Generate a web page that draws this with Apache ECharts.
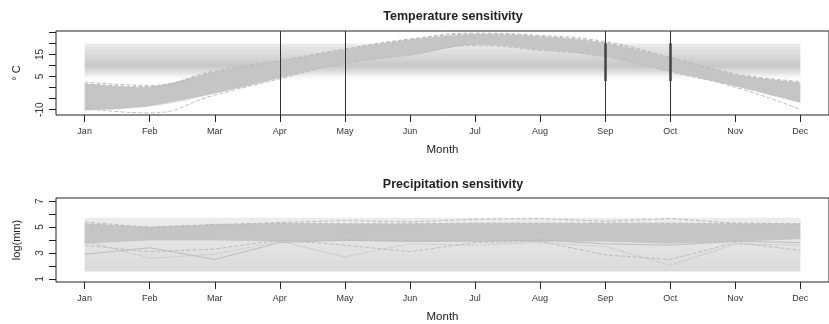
<!DOCTYPE html>
<html>
<head>
<meta charset="utf-8">
<script src="https://cdn.jsdelivr.net/npm/echarts@6/dist/echarts.min.js"></script>
<style>
  html, body { margin: 0; padding: 0; background: #fff; }
  #chart { width: 829px; height: 324px; }
</style>
</head>
<body>
<div id="chart"></div>
<script>
  // months on x (1..12)
  var months = ['Jan', 'Feb', 'Mar', 'Apr', 'May', 'Jun', 'Jul', 'Aug', 'Sep', 'Oct', 'Nov', 'Dec'];
  var monthPos = [1, 2, 3, 4, 5, 6, 7, 8, 9, 10, 11, 12];

  // temperature: dense envelope of the ensemble (deg C)
  var tempTop = [1.8, 0.4, 7.0, 11.9, 17.2, 21.7, 24.2, 23.2, 20.2, 13.4, 5.9, 2.2];
  var tempBot = [-10.2, -8.3, -2.6, 4.4, 11.2, 14.9, 19.4, 17.2, 14.2, 7.4, 0.7, -6.8];
  // a few outer members
  var tempOutHigh = [2.6, 1.0, 7.6, 12.3, 17.5, 22.0, 24.6, 23.6, 20.8, 13.8, 6.3, 2.8];
  var tempOutLow = [-9.2, -11.5, -3.4, 4.0, 10.9, 14.7, 19.0, 16.9, 13.9, 7.1, 0.2, -9.9];
  var tempTicks = [-10, -5, 0, 5, 10, 15, 20, 25];
  var tempLabels = [-10, 5, 15];
  var tempShade = [3, 20];       // shaded band (deg C)
  var tempFull = [4, 5, 9, 10];  // full height vertical lines (month)
  var tempThick = [9, 10];       // thick segment over the shaded band

  // precipitation: dense envelope (log mm)
  var precTop = [5.25, 5.0, 5.2, 5.3, 5.25, 5.25, 5.3, 5.3, 5.3, 5.3, 5.25, 5.25];
  var precBot = [3.75, 4.0, 4.0, 3.9, 3.95, 3.9, 3.95, 3.9, 3.9, 3.75, 3.9, 4.1];
  var precUp = [5.4, 4.95, 5.15, 5.35, 5.5, 5.4, 5.6, 5.65, 5.45, 5.65, 5.3, 5.25];
  var precLowA = [2.9, 3.4, 2.5, 3.8, 4.0, 3.9, 3.9, 4.0, 3.7, 3.6, 3.9, 3.8];
  var precLowB = [3.6, 3.1, 3.3, 4.0, 3.6, 3.1, 3.8, 3.9, 2.85, 2.5, 3.8, 3.2];
  var precLowC = [3.9, 2.6, 2.9, 3.9, 2.7, 3.7, 3.6, 3.8, 3.5, 2.05, 3.7, 3.6];
  var precTicks = [1, 2, 3, 4, 5, 6, 7];
  var precLabels = [1, 3, 5, 7];
  var precShade = [1.57, 5.72];

  function pairs(ys) {
    return monthPos.map(function (m, i) { return [m, ys[i]]; });
  }

  var font = 'Liberation Sans, Arial, Helvetica, sans-serif';
  var ink = '#222';
  var lineGrey = '#bdbdbd';
  var bandGrey = '#c5c5c5';

  function xAxisOf(idx) {
    return {
      gridIndex: idx,
      type: 'value',
      min: 0.56,
      max: 12.44,
      name: 'Month',
      nameLocation: 'middle',
      nameGap: 29,
      nameTextStyle: { color: ink, fontSize: 11.5, fontFamily: font },
      axisLine: { show: false, onZero: false },
      axisTick: { show: true, length: 7, lineStyle: { color: ink }, customValues: monthPos },
      axisLabel: {
        color: '#333', fontSize: 9, fontFamily: font, margin: 12,
        customValues: monthPos,
        formatter: function (v) { return months[Math.round(v) - 1]; }
      },
      splitLine: { show: false }
    };
  }
  function yAxisOf(idx, name, min, max, ticks, labels) {
    return {
      gridIndex: idx,
      type: 'value',
      min: min,
      max: max,
      name: name,
      nameLocation: 'middle',
      nameGap: 34,
      nameRotate: 90,
      nameTextStyle: { color: ink, fontSize: 11, fontFamily: font },
      axisLine: { show: false, onZero: false },
      axisTick: { show: true, length: 7, lineStyle: { color: ink }, customValues: ticks },
      axisLabel: {
        color: '#333', fontSize: 10, fontFamily: font, margin: 11, rotate: 90,
        customValues: labels
      },
      splitLine: { show: false }
    };
  }

  // cubic (catmull-rom style) path segments through screen points
  function curve(pts, smooth) {
    var d = '';
    for (var i = 0; i < pts.length - 1; i++) {
      var p0 = pts[Math.max(i - 1, 0)], p1 = pts[i], p2 = pts[i + 1], p3 = pts[Math.min(i + 2, pts.length - 1)];
      if (!smooth) { d += ' L' + p2[0] + ' ' + p2[1]; continue; }
      var c1x = p1[0] + (p2[0] - p0[0]) / 6, c1y = p1[1] + (p2[1] - p0[1]) / 6;
      var c2x = p2[0] - (p3[0] - p1[0]) / 6, c2y = p2[1] - (p3[1] - p1[1]) / 6;
      d += ' C' + c1x + ' ' + c1y + ' ' + c2x + ' ' + c2y + ' ' + p2[0] + ' ' + p2[1];
    }
    return d;
  }

  // filled envelope between two series, drawn through the axes
  function band(xi, top, bot, smooth) {
    return {
      type: 'custom', xAxisIndex: xi, yAxisIndex: xi, silent: true, z: 2,
      data: [[monthPos[0], top[0]]],
      renderItem: function (params, api) {
        var up = monthPos.map(function (m, i) { return api.coord([m, top[i]]); });
        var lo = monthPos.map(function (m, i) { return api.coord([m, bot[i]]); }).reverse();
        var d = 'M' + up[0][0] + ' ' + up[0][1] + curve(up, smooth) +
          ' L' + lo[0][0] + ' ' + lo[0][1] + curve(lo, smooth) + ' Z';
        return {
          type: 'path',
          shape: { pathData: d },
          style: { fill: bandGrey, stroke: null }
        };
      }
    };
  }

  var dash = function (xi, ys, type, smooth) {
    return {
      type: 'line', xAxisIndex: xi, yAxisIndex: xi, data: pairs(ys),
      smooth: smooth, showSymbol: false, silent: true, z: 3,
      lineStyle: { color: lineGrey, width: 1, type: type }
    };
  };

  var myChart = echarts.init(document.getElementById('chart'));
  myChart.setOption({
    animation: false,
    title: [
      { text: 'Temperature sensitivity', left: 448, top: 5, textAlign: 'center',
        textStyle: { fontSize: 12.5, fontWeight: 'bold', color: ink, fontFamily: font } },
      { text: 'Precipitation sensitivity', left: 448, top: 173, textAlign: 'center',
        textStyle: { fontSize: 12.5, fontWeight: 'bold', color: ink, fontFamily: font } }
    ],
    grid: [
      { left: 56, top: 31, width: 784, height: 84, show: true, borderColor: ink, borderWidth: 1 },
      { left: 56, top: 198, width: 784, height: 84, show: true, borderColor: ink, borderWidth: 1 }
    ],
    xAxis: [xAxisOf(0), xAxisOf(1)],
    yAxis: [
      yAxisOf(0, '\u00b0 C', -12.4, 25.6, tempTicks, tempLabels),
      yAxisOf(1, 'log(mm)', 0.76, 7.24, precTicks, precLabels)
    ],
    series: [
      // shaded background band + vertical markers (temperature)
      {
        type: 'line', xAxisIndex: 0, yAxisIndex: 0, data: [], silent: true, z: 5,
        markArea: {
          silent: true, z: 1,
          itemStyle: {
            color: new echarts.graphic.LinearGradient(0, 0, 0, 1, [
              { offset: 0, color: '#ebebeb' },
              { offset: 0.3, color: '#dadada' },
              { offset: 0.6, color: '#c7c7c7' },
              { offset: 0.76, color: '#dfdfdf' },
              { offset: 0.9, color: '#f8f8f8' },
              { offset: 1, color: '#ffffff' }
            ])
          },
          data: [[{ xAxis: monthPos[0], yAxis: tempShade[1] }, { xAxis: monthPos[11], yAxis: tempShade[0] }]]
        },
        markLine: {
          silent: true, symbol: 'none', animation: false,
          label: { show: false },
          lineStyle: { color: '#333', width: 1, type: 'solid' },
          data: tempFull.map(function (m) { return { xAxis: m }; }).concat(
            tempThick.map(function (m) {
              return [{ coord: [m, tempShade[0]], lineStyle: { width: 2.5, color: '#444' } },
                      { coord: [m, tempShade[1]] }];
            }))
        }
      },
      band(0, tempTop, tempBot, true),
      dash(0, tempTop, 'dashed', true),
      dash(0, tempBot, 'dotted', true),
      dash(0, tempOutHigh, 'dashed', true),
      dash(0, tempOutLow, 'dashed', true),
      // shaded background band (precipitation)
      {
        type: 'line', xAxisIndex: 1, yAxisIndex: 1, data: [], silent: true,
        markArea: {
          silent: true,
          itemStyle: {
            color: new echarts.graphic.LinearGradient(0, 0, 0, 1, [
              { offset: 0, color: '#ececec' },
              { offset: 1, color: '#dadada' }
            ])
          },
          data: [[{ xAxis: monthPos[0], yAxis: precShade[1] }, { xAxis: monthPos[11], yAxis: precShade[0] }]]
        }
      },
      band(1, precTop, precBot, false),
      dash(1, precTop, 'dashed', false),
      dash(1, precBot, 'dotted', false),
      dash(1, precUp, 'dashed', false),
      dash(1, precLowA, 'solid', false),
      dash(1, precLowB, 'dashed', false),
      dash(1, precLowC, 'dotted', false)
    ]
  });
</script>
</body>
</html>
